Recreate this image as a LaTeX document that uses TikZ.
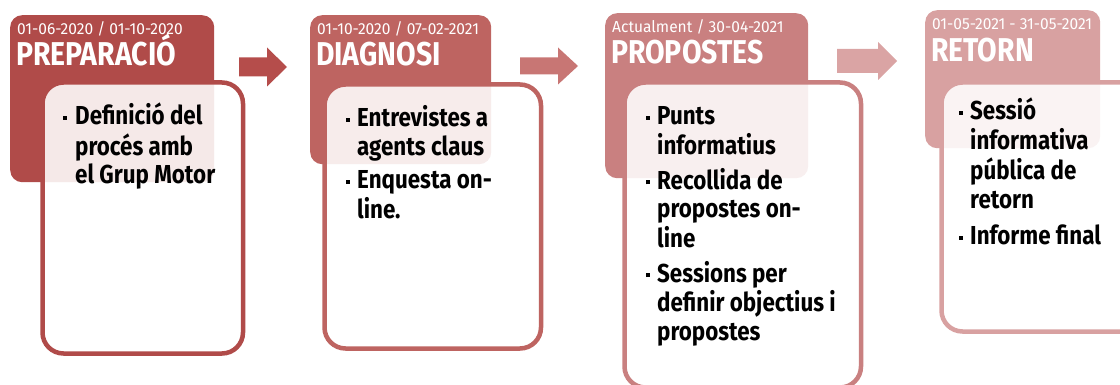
\documentclass[tikz,border=0pt]{standalone}
\usepackage{fontspec}
\setmainfont{Fira Sans}[FakeStretch=0.86]
\newfontfamily\datefont{Fira Sans}[FakeStretch=0.97]
\definecolor{cA}{HTML}{B04B49}
\definecolor{cB}{HTML}{BE6461}
\definecolor{cC}{HTML}{C98080}
\definecolor{cD}{HTML}{D8A1A1}
\definecolor{aA}{HTML}{B54D4B}
\definecolor{aB}{HTML}{C87674}
\definecolor{aC}{HTML}{DAA4A4}
\newcommand\bodyfont{\fontsize{26}{28.5}\selectfont\bfseries}
\newcommand\bsq{\rule[5pt]{4pt}{4pt}}
\tikzset{
  head/.style={rectangle, rounded corners=12pt, inner sep=0pt, anchor=north west},
  card/.style={rectangle, rounded corners=21pt, inner sep=0pt, anchor=north west,
    line width=4.5pt, fill=white, fill opacity=0.88, draw opacity=1},
  datetxt/.style={anchor=base west, inner sep=0pt, text=white, font=\datefont\fontsize{16}{18}\selectfont},
  titletxt/.style={anchor=base west, inner sep=0pt, text=white, font=\fontsize{33}{35}\selectfont\bfseries},
  bodytxt/.style={anchor=base west, inner sep=0pt, text=black, font=\bodyfont},
}
\begin{document}
\begin{tikzpicture}[x=1pt,y=-1pt]
\useasboundingbox (0,0) rectangle (1120,385);
% headers
\node[head, fill=cA, minimum width=204pt, minimum height=167pt] (h1) at (10,15) {};
\node[head, fill=cB, minimum width=181pt, minimum height=149pt] (h2) at (310,15) {};
\node[head, fill=cC, minimum width=203pt, minimum height=165pt] (h3) at (605,13) {};
\node[head, fill=cD, minimum width=175pt, minimum height=138pt] (h4) at (925,10) {};
% block arrows
\fill[aA] (239,57.5) -- (267,57.5) -- (267,47.5) -- (287,67) -- (267,86.5) -- (267,76.5) -- (239,76.5) -- cycle;
\fill[aB] (520,57.5) -- (558,57.5) -- (558,47.5) -- (578,66) -- (558,84.5) -- (558,74.5) -- (520,74.5) -- cycle;
\fill[aC] (837,49) -- (878,49) -- (878,42) -- (897,61) -- (878,80) -- (878,73) -- (837,73) -- cycle;
% cards
\node[card, draw=cA, minimum width=200.5pt, minimum height=271pt] (b1) at (40.25,80.25) {};
\node[card, draw=cB, minimum width=216.5pt, minimum height=264pt] (b2) at (322.25,82.25) {};
\node[card, draw=cC, minimum width=236.5pt, minimum height=305pt] (b3) at (622.25,80.25) {};
\node[card, draw=cD, minimum width=200pt, minimum height=249pt] (b4) at (939.25,80.25) {};
% header texts
\node[datetxt] (d1) at (17,35) {01-06-2020 / 01-10-2020};
\node[titletxt] (t1) at (16,66) {PREPARACIÓ};
\node[datetxt] (d2) at (317,35) {01-10-2020 / 07-02-2021};
\node[titletxt] (t2) at (316,66) {DIAGNOSI};
\node[datetxt] (d3) at (612,33) {Actualment / 30-04-2021};
\node[titletxt] (t3) at (611,64) {PROPOSTES};
\node[datetxt] (d4) at (932,30) {01-05-2021 - 31-05-2021};
\node[titletxt] (t4) at (931,62) {RETORN};
% body texts
\node[bodytxt] (p1) at (63,125) {\begin{tabular}[t]{@{}p{12pt}@{}l@{}}
\bsq & Definició del\\
 & procés amb\\
 & el Grup Motor
\end{tabular}};
\node[bodytxt] (p2) at (346,127) {\begin{tabular}[t]{@{}p{11pt}@{}l@{}}
\bsq & Entrevistes a\\
 & agents claus\\[5pt]
\bsq & Enquesta on-\\
 & line.
\end{tabular}};
\node[bodytxt] (p3) at (646,125) {\begin{tabular}[t]{@{}p{11pt}@{}l@{}}
\bsq & Punts\\
 & informatius\\[5pt]
\bsq & Recollida de\\
 & propostes on-\\
 & line\\[5pt]
\bsq & Sessions per\\
 & definir objectius i\\
 & propostes
\end{tabular}};
\node[bodytxt] (p4) at (959,120) {\begin{tabular}[t]{@{}p{11pt}@{}l@{}}
\bsq & Sessió\\
 & informativa\\
 & pública de\\
 & retorn\\[8pt]
\bsq & Informe final
\end{tabular}};
\end{tikzpicture}
\end{document}
